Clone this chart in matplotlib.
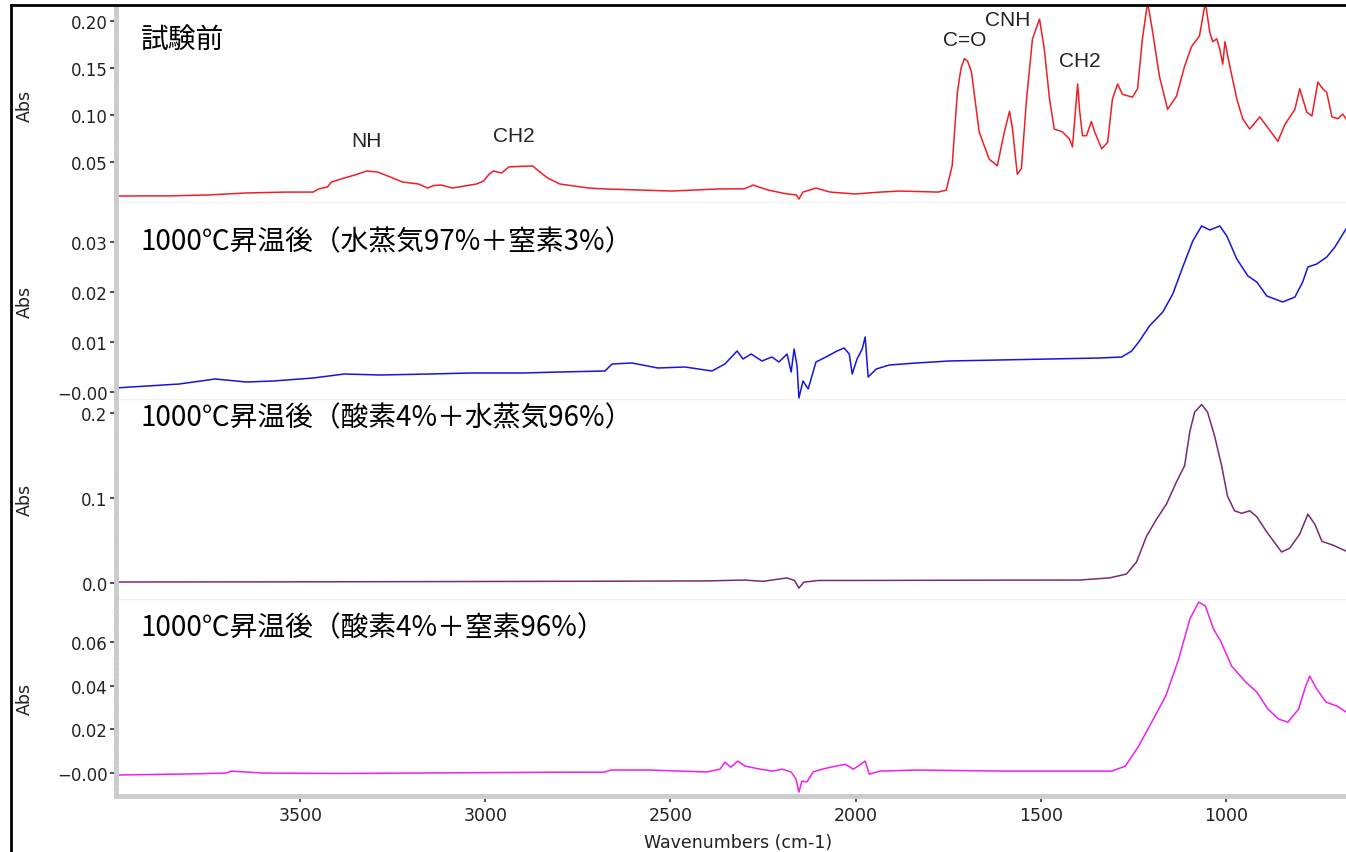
import matplotlib
matplotlib.use("Agg")
import matplotlib.pyplot as plt
from matplotlib.lines import Line2D
from matplotlib.ticker import FixedLocator, MultipleLocator

# 試験前 (red)
wn_before = [4000, 3850, 3749, 3649, 3541, 3465, 3451, 3427, 3416, 3381, 3350, 3321, 3292, 3260,
             3224, 3181, 3156, 3140, 3119, 3089, 3056, 3024, 3005, 2990, 2978, 2956, 2937, 2900,
             2872, 2855, 2832, 2799, 2721, 2675, 2586, 2496, 2372, 2300, 2277, 2237, 2185, 2160,
             2153, 2142, 2107, 2069, 2001, 1933, 1882, 1777, 1755, 1739, 1725, 1715, 1706, 1697,
             1687, 1666, 1639, 1617, 1598, 1584, 1576, 1563, 1552, 1538, 1522, 1503, 1490, 1476,
             1463, 1441, 1422, 1414, 1400, 1395, 1387, 1376, 1363, 1354, 1335, 1319, 1306, 1292,
             1279, 1252, 1238, 1225, 1211, 1198, 1179, 1157, 1133, 1111, 1092, 1071, 1055, 1043,
             1035, 1024, 1016, 1008, 1002, 989, 970, 954, 935, 908, 889, 859, 840, 813, 800, 781,
             767, 751, 738, 727, 713, 697, 684, 675]
abs_before = [0.0138, 0.0140, 0.0149, 0.0170, 0.0180, 0.0180, 0.0213, 0.0234, 0.0287, 0.0330,
              0.0365, 0.0404, 0.0394, 0.0345, 0.0287, 0.0266, 0.0223, 0.0250, 0.0255, 0.0223,
              0.0245, 0.0266, 0.0298, 0.0370, 0.0404, 0.0383, 0.0447, 0.0455, 0.0457, 0.0400,
              0.0330, 0.0266, 0.0223, 0.0213, 0.0202, 0.0191, 0.0213, 0.0215, 0.0255, 0.0202,
              0.0160, 0.0150, 0.0106, 0.0180, 0.0223, 0.0180, 0.0160, 0.0180, 0.0191, 0.0180,
              0.0200, 0.0460, 0.1240, 0.1500, 0.1600, 0.1570, 0.1460, 0.0820, 0.0530, 0.0460,
              0.0820, 0.1040, 0.0850, 0.0370, 0.0430, 0.1170, 0.1810, 0.2020, 0.1700, 0.1170,
              0.0850, 0.0820, 0.0745, 0.0660, 0.1330, 0.1060, 0.0780, 0.0780, 0.0930, 0.0820,
              0.0640, 0.0710, 0.1170, 0.1330, 0.1220, 0.1190, 0.1280, 0.1810, 0.2200, 0.1900,
              0.1410, 0.1060, 0.1200, 0.1520, 0.1730, 0.1840, 0.2200, 0.1880, 0.1780, 0.1810,
              0.1700, 0.1540, 0.1780, 0.1520, 0.1170, 0.0960, 0.0850, 0.0980, 0.0880, 0.0720,
              0.0900, 0.1060, 0.1280, 0.1030, 0.0990, 0.1350, 0.1280, 0.1240, 0.0980, 0.0960,
              0.1010, 0.0960]

# 水蒸気97%+窒素3% (blue)
wn_steam = [4000, 3827, 3730, 3646, 3573, 3465, 3381, 3284, 3150, 3040, 2900, 2799, 2677, 2658,
            2604, 2534, 2461, 2388, 2353, 2320, 2304, 2282, 2253, 2226, 2207, 2185, 2174, 2166,
            2158, 2153, 2142, 2128, 2107, 2080, 2050, 2031, 2017, 2009, 1996, 1982, 1974, 1966,
            1944, 1909, 1836, 1747, 1612, 1476, 1340, 1281, 1254, 1233, 1206, 1170, 1143, 1116,
            1089, 1065, 1043, 1016, 997, 970, 940, 916, 889, 846, 813, 792, 778, 754, 727, 705, 675]
abs_steam = [0.0008, 0.0016, 0.0026, 0.0020, 0.0022, 0.0028, 0.0036, 0.0034, 0.0036, 0.0038,
             0.0038, 0.0040, 0.0042, 0.0056, 0.0058, 0.0048, 0.0050, 0.0042, 0.0056, 0.0082,
             0.0066, 0.0076, 0.0062, 0.0070, 0.0060, 0.0076, 0.0040, 0.0086, 0.0052, -0.0012,
             0.0022, 0.0006, 0.0060, 0.0070, 0.0082, 0.0088, 0.0076, 0.0036, 0.0066, 0.0086,
             0.0110, 0.0030, 0.0046, 0.0054, 0.0058, 0.0062, 0.0064, 0.0066, 0.0068, 0.0070,
             0.0082, 0.0102, 0.0132, 0.0160, 0.0196, 0.0250, 0.0302, 0.0332, 0.0324, 0.0332,
             0.0312, 0.0266, 0.0232, 0.0220, 0.0192, 0.0180, 0.0190, 0.0220, 0.0250, 0.0256,
             0.0270, 0.0290, 0.0326]

# 酸素4%+水蒸気96% (purple)
wn_o2_steam = [4000, 3500, 3000, 2600, 2400, 2300, 2250, 2185, 2165, 2153, 2140, 2100, 2000, 1800,
               1600, 1395, 1314, 1268, 1241, 1214, 1187, 1160, 1133, 1111, 1097, 1084, 1065, 1049,
               1030, 1011, 995, 976, 957, 935, 916, 889, 849, 827, 800, 778, 759, 740, 711, 675]
abs_o2_steam = [0.0012, 0.0014, 0.0018, 0.0022, 0.0025, 0.0035, 0.0020, 0.0060, 0.0030, -0.0060,
                0.0010, 0.0030, 0.0030, 0.0032, 0.0034, 0.0035, 0.0060, 0.0106, 0.0247, 0.0550,
                0.0750, 0.0930, 0.1190, 0.1380, 0.1780, 0.2010, 0.2100, 0.2010, 0.1730, 0.1380,
                0.1020, 0.0850, 0.0820, 0.0850, 0.0780, 0.0600, 0.0365, 0.0410, 0.0576, 0.0810,
                0.0690, 0.0490, 0.0447, 0.0376]

# 酸素4%+窒素96% (magenta)
wn_o2_n2 = [4000, 3800, 3700, 3687, 3600, 3400, 3200, 3000, 2800, 2680, 2660, 2558, 2402, 2366,
            2353, 2337, 2318, 2299, 2258, 2223, 2199, 2174, 2161, 2153, 2145, 2131, 2115, 2090,
            2053, 2028, 2006, 1993, 1974, 1963, 1933, 1836, 1595, 1308, 1271, 1235, 1200, 1162,
            1127, 1097, 1073, 1055, 1033, 1014, 984, 946, 916, 886, 857, 832, 803, 784, 773, 754,
            729, 700, 675]
abs_o2_n2 = [-0.0009, -0.0004, 0.0000, 0.0009, 0.0000, -0.0002, 0.0000, 0.0002, 0.0004, 0.0004,
             0.0014, 0.0014, 0.0005, 0.0018, 0.0050, 0.0027, 0.0055, 0.0032, 0.0018, 0.0009,
             0.0018, 0.0005, -0.0027, -0.0087, -0.0037, -0.0040, 0.0005, 0.0018, 0.0032, 0.0040,
             0.0018, 0.0032, 0.0055, -0.0005, 0.0009, 0.0014, 0.0009, 0.0009, 0.0032, 0.0124,
             0.0233, 0.0353, 0.0522, 0.0705, 0.0783, 0.0765, 0.0660, 0.0605, 0.0490, 0.0417,
             0.0371, 0.0293, 0.0247, 0.0233, 0.0293, 0.0398, 0.0444, 0.0385, 0.0325, 0.0307,
             0.0280]

titles = ['試験前',
          '1000℃昇温後（水蒸気97%＋窒素3%）',
          '1000℃昇温後（酸素4%＋水蒸気96%）',
          '1000℃昇温後（酸素4%＋窒素96%）']
colors = ['#f01e23', '#1414e6', '#7a2878', '#f01ef0']
ylims = [(0.00744, 0.2149), (-0.0014, 0.038), (-0.0188, 0.2165), (-0.0105, 0.0797)]
yticks = [[0.05, 0.10, 0.15, 0.20], [0.0, 0.01, 0.02, 0.03], [0.0, 0.1, 0.2], [0.0, 0.02, 0.04, 0.06]]
yticklabels = [['0.05', '0.10', '0.15', '0.20'], ['−0.00', '0.01', '0.02', '0.03'],
               ['0.0', '0.1', '0.2'], ['−0.00', '0.02', '0.04', '0.06']]
yminor = [0.01, None, 0.025, 0.0025]
title_y = [0.836, 0.802, 0.91, 0.856]

# peak labels on the first spectrum
peak_names = ['NH', 'CH2', 'C=O', 'CNH', 'CH2']
peak_wn = [3321, 2924, 1706, 1590, 1395]
peak_abs = [0.0734, 0.0787, 0.180, 0.202, 0.1585]

W, H = 1346, 853
panel_edges = [8, 203, 400, 600, 797]  # pixel rows
left_px = 116
CJK = ['Noto Sans CJK JP', 'DejaVu Sans']

fig = plt.figure(figsize=(W / 100, H / 100), dpi=100)
series = [(wn_before, abs_before), (wn_steam, abs_steam),
          (wn_o2_steam, abs_o2_steam), (wn_o2_n2, abs_o2_n2)]

axes = []
for i, (wn, ab) in enumerate(series):
    top, bot = panel_edges[i], panel_edges[i + 1]
    ax = fig.add_axes([left_px / W, 1 - bot / H, (W - left_px) / W, (bot - top) / H])
    ax.plot(wn, ab, color=colors[i], lw=1.1)
    ax.set_xlim(3998, 675)
    ax.set_ylim(*ylims[i])
    ax.yaxis.set_major_locator(FixedLocator(yticks[i]))
    ax.set_yticklabels(yticklabels[i])
    if yminor[i]:
        ax.yaxis.set_minor_locator(MultipleLocator(yminor[i]))
    ax.xaxis.set_major_locator(MultipleLocator(500))
    ax.xaxis.set_minor_locator(MultipleLocator(100))
    for s in ['top', 'right']:
        ax.spines[s].set_visible(False)
    ax.spines['left'].set_color('#cccccc')
    ax.spines['left'].set_linewidth(3.5)
    ax.tick_params(axis='y', which='major', direction='out', length=4, width=1.2,
                   color='#333333', labelsize=12, pad=2, labelcolor='#222222')
    ax.tick_params(axis='y', which='minor', direction='out', length=1.5, width=1.6,
                   color='#444444')
    if i < 3:
        ax.spines['bottom'].set_color('#f0f0f0')
        ax.spines['bottom'].set_linewidth(1)
        ax.tick_params(axis='x', which='both', bottom=False, labelbottom=False)
    else:
        ax.spines['bottom'].set_color('#cccccc')
        ax.spines['bottom'].set_linewidth(3.5)
        ax.tick_params(axis='x', which='major', direction='out', length=4, width=1.2,
                       color='#333333', labelsize=12.5, pad=3, labelcolor='#222222')
        ax.tick_params(axis='x', which='minor', direction='out', length=1.5, width=1.6,
                       color='#444444')
    ax.patch.set_alpha(0)
    ax.text(0.0203, title_y[i], titles[i], transform=ax.transAxes, fontsize=20,
            family=CJK, va='center', ha='left')
    fig.text(25 / W, 1 - (top + bot) / 2 / H, 'Abs', rotation=90, fontsize=12.5,
             ha='center', va='center', color='#222222')
    axes.append(ax)

for name, x, y in zip(peak_names, peak_wn, peak_abs):
    axes[0].text(x, y, name, fontsize=15, family='Liberation Sans', ha='center', va='center',
                 color='#222222')

fig.text(738 / W, 1 - 843 / H, 'Wavenumbers (cm-1)', fontsize=12.5, ha='center', va='center',
         color='#222222')

# outer frame (left and top edges)
fig.add_artist(Line2D([11.5 / W, 11.5 / W], [0, 1 - 6 / H], color='black', lw=2))
fig.add_artist(Line2D([11.5 / W, 1], [1 - 6 / H, 1 - 6 / H], color='black', lw=2))

fig.savefig('out.png', dpi=100)
